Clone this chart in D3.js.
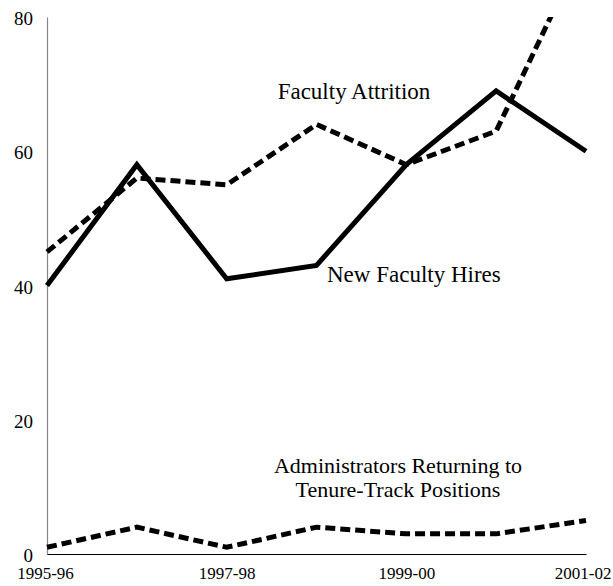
<!DOCTYPE html>
<html>
<head>
<meta charset="utf-8">
<script src="https://cdn.jsdelivr.net/npm/d3@7"></script>
<style>
  html, body { margin: 0; padding: 0; background: #fff; }
  svg { display: block; }
  svg text { font-family: "Liberation Serif", "Times New Roman", serif !important; fill: #000; }
</style>
</head>
<body>
<svg id="chart" width="613" height="586"></svg>
<script>
const years = ["1995-96", "1996-97", "1997-98", "1998-99", "1999-00", "2000-01", "2001-02"];
const xTickLabels = ["1995-96", "1997-98", "1999-00", "2001-02"];
const yTicks = [0, 20, 40, 60, 80];
const newFacultyHires = [40, 58, 41, 43, 58, 69, 60];
const facultyAttrition = [45, 56, 55, 64, 58, 63, 91];
const adminsReturning = [1, 4, 1, 4, 3, 3, 5];

const svg = d3.select("#chart");
const mLeft = 47, mRight = 586, mTop = 17, mBottom = 554;

const x = d3.scalePoint().domain(years).range([mLeft, mRight]);
const y = d3.scaleLinear().domain([0, 80]).range([mBottom, mTop]);

svg.append("defs").append("clipPath").attr("id", "plotclip")
  .append("rect").attr("x", 0).attr("y", mTop).attr("width", 613).attr("height", mBottom - mTop + 10);

// y axis
const yAxis = svg.append("g").attr("transform", `translate(${mLeft},0)`)
  .call(d3.axisLeft(y).tickValues(yTicks).tickSize(0).tickPadding(14));
yAxis.attr("font-family", null);
yAxis.select(".domain").attr("stroke", "#888").attr("stroke-width", 1.2);
yAxis.selectAll("text").style("font-size", "19px").attr("dy", "0.4em");

// x axis
const xAxis = svg.append("g").attr("transform", `translate(0,${mBottom})`)
  .call(d3.axisBottom(x).tickValues(xTickLabels).tickSize(0).tickPadding(13));
xAxis.attr("font-family", null);
xAxis.select(".domain").attr("stroke", "#000").attr("stroke-width", 1.2);
xAxis.selectAll("text").style("font-size", "17px")
  .attr("text-anchor", d => d === "2001-02" ? "end" : "middle")
  .attr("dx", d => d === "2001-02" ? 25 : (d === "1995-96" ? -2 : 0));

const line = d3.line().x((d, i) => x(years[i])).y(d => y(d));

const g = svg.append("g").attr("clip-path", "url(#plotclip)");
g.append("path").datum(facultyAttrition).attr("d", line)
  .attr("fill", "none").attr("stroke", "#000").attr("stroke-width", 5)
  .attr("stroke-dasharray", "10,5");
g.append("path").datum(adminsReturning).attr("d", line)
  .attr("fill", "none").attr("stroke", "#000").attr("stroke-width", 5)
  .attr("stroke-dasharray", "10,5");
g.append("path").datum(newFacultyHires).attr("d", line)
  .attr("fill", "none").attr("stroke", "#000").attr("stroke-width", 5)
  .attr("stroke-linejoin", "miter");

// series labels
svg.append("text").attr("x", 354).attr("y", 99).attr("text-anchor", "middle")
  .style("font-size", "23px").text("Faculty Attrition");
svg.append("text").attr("x", 327).attr("y", 282).attr("text-anchor", "start")
  .style("font-size", "23px").text("New Faculty Hires");
svg.append("text").attr("x", 398).attr("y", 473).attr("text-anchor", "middle")
  .style("font-size", "22px").text("Administrators Returning to");
svg.append("text").attr("x", 398).attr("y", 497).attr("text-anchor", "middle")
  .style("font-size", "22px").text("Tenure-Track Positions");
</script>
</body>
</html>
